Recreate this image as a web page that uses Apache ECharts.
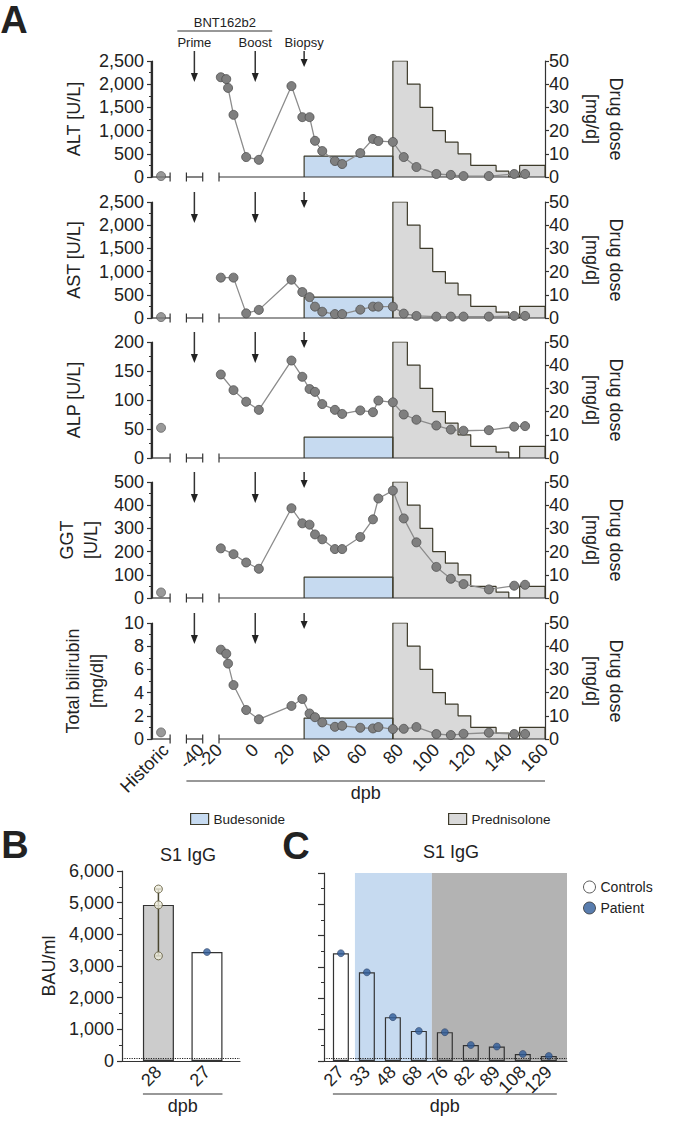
<!DOCTYPE html>
<html><head><meta charset="utf-8">
<script src="https://cdn.jsdelivr.net/npm/echarts@6/dist/echarts.min.js"></script>
<style>html,body{margin:0;padding:0;background:#fff}#c{width:692px;height:1122px}</style>
</head><body><div id="c"></div>
<script>
// ---------------- data ----------------
const daysFull  = [-19,-16,-15,-12,-5,2,20,26,30,33,37,44,48,58,65,68,76,82,89,100,108,115,129,143,149];
const daysShort = [-19,-12,-5,2,20,26,30,33,37,44,48,58,65,68,76,82,89,100,108,115,129,143,149];
const altValues  = [2150,2110,1920,1340,430,370,1960,1290,1290,780,560,345,280,515,820,775,755,430,215,65,45,20,20,65,65];
const astValues  = [870,870,100,175,825,560,450,245,135,85,85,180,245,245,245,95,45,30,30,30,30,45,45];
const alpValues  = [144,117,97,83,168,140,119,114,93,83,76,82,79,99,96,75,66,56,49,47,48,54,55];
const ggtValues  = [214,189,153,126,387,322,316,274,253,211,211,263,339,429,463,343,240,134,83,60,37,53,57];
const biliValues = [7.7,7.35,6.5,4.65,2.5,1.7,2.85,3.45,2.2,1.88,1.43,1.05,1.14,0.97,0.91,1.03,0.86,0.88,1.03,0.43,0.34,0.45,0.54,0.43,0.43];
const historicValues = [20,20,52,24,0.57];           // ALT, AST, ALP, GGT, bilirubin
const budesonideStart = 27, budesonideEnd = 76, budesonideDose = 9;
const prednisoloneStart = [76,84,91,98,105,112,119,133,140,146];
const prednisoloneDose  = [50,40,30,20,15,10,5,2.5,0,5];
const prednisoloneEnd = 160;
// broken x axis (day units; the left part is a compressed, broken scale)
const xMinDay = -57, xMaxDay = 160;
const historicX = -52;
const axisBreaks = [[-57,-47,0,1],[-38,-29,1,1],[-20,160,1,0]];
const xTickValues = [-49.5,-30,-20,0,20,40,60,80,100,120,140,160];
const xTickLabels = ['Historic','-40','-20','0','20','40','60','80','100','120','140','160'];
const eventNames = ['Prime','Boost','Biopsy'];
const eventDays  = [-33.6,0,27];
// panel B
const bCategories = ['28','27'];
const bControls = [5430,4930,3320];
const bBars = [4930,3440];
const bPatient = 3440;
// panel C
const cCategories = ['27','33','48','68','76','82','89','108','129'];
const cValues = [3440,2830,1400,960,920,510,460,225,160];
const detectionLimit = 100;

// axis coordinate = day + shift (keeps the broken axis free of a zero crossing)
const X_SHIFT = 100;
const vx = d => d + X_SHIFT;

// ---------------- style ----------------
const FONT = 'Liberation Sans, Arial, Helvetica, sans-serif';
const INK = '#222', AX = '#333', EDGE = '#3d3a2a';
const BUD = '#c6daf0', PRED = '#d9d9d9', GREYZONE = '#b3b3b3', BLUE = '#2f5d9a';
const fmt = v => String(v).replace(/\B(?=(\d{3})+(?!\d))/g, ',');
const aTops = [61,202,342,482,623];

const panels = [
  {name:'ALT [U/L]', days:daysFull, vals:altValues, max:2500, interval:500, gap:66},
  {name:'AST [U/L]', days:daysShort, vals:astValues, max:2500, interval:500, gap:66},
  {name:'ALP [U/L]', days:daysShort, vals:alpValues, max:200, interval:50, gap:66},
  {name:'GGT\n[U/L]', days:daysShort, vals:ggtValues, max:500, interval:100, gap:41},
  {name:'Total bilirubin\n[mg/dl]', days:daysFull, vals:biliValues, max:10, interval:2, gap:43}
];

const budData = [[budesonideStart,0],[budesonideStart,budesonideDose],[budesonideEnd,budesonideDose],[budesonideEnd,0]].map(p=>[vx(p[0]),p[1]]);
const predData = [[prednisoloneStart[0],0]].concat(prednisoloneStart.map((s,i)=>[s,prednisoloneDose[i]])).concat([[prednisoloneEnd,0]]).map(p=>[vx(p[0]),p[1]]);
const breakData = axisBreaks.map(b=>[vx(b[0]),vx(b[1]),b[2],b[3]]);

function renderBreak(params, api){
  const a = api.coord([api.value(0),0]), b = api.coord([api.value(1),0]);
  const st = {stroke:AX, lineWidth:1.2};
  const ch = [{type:'line', shape:{x1:a[0],y1:a[1],x2:b[0],y2:b[1]}, style:st}];
  if (api.value(2)) ch.push({type:'line', shape:{x1:a[0],y1:a[1]-4.5,x2:a[0],y2:a[1]+4.5}, style:st});
  if (api.value(3)) ch.push({type:'line', shape:{x1:b[0],y1:b[1]-4.5,x2:b[0],y2:b[1]+4.5}, style:st});
  return {type:'group', children:ch};
}

const grids=[], xAxis=[], yAxis=[], series=[];
const labelStyle = {fontSize:18, color:INK, fontFamily:FONT};
const axLine = () => ({show:true, onZero:false, lineStyle:{color:AX,width:1.2}});
panels.forEach((p,i)=>{
  grids.push({left:152, right:147, top:aTops[i], height:116});
  xAxis.push({type:'value', gridIndex:i, min:vx(xMinDay), max:vx(xMaxDay), axisLine:{show:false,onZero:false}, axisTick:{show:false}, splitLine:{show:false},
    axisLabel: i===4 ? Object.assign({show:true, customValues:xTickValues.map(vx), rotate:45, margin:8,
      formatter:v=>xTickLabels[xTickValues.findIndex(t=>Math.abs(vx(t)-v)<1e-6)]}, labelStyle) : {show:false}});
  yAxis.push({type:'value', gridIndex:i, position:'left', min:0, max:p.max, interval:p.interval,
    name:p.name, nameLocation:'middle', nameGap:p.gap, nameTextStyle:Object.assign({lineHeight:24}, labelStyle),
    axisLine:axLine(), axisTick:{show:true,length:5,lineStyle:{color:AX,width:1.2}},
    minorTick:{show:true, splitNumber:2, length:3, lineStyle:{color:AX,width:1}}, splitLine:{show:false},
    axisLabel:Object.assign({margin:8, formatter:fmt}, labelStyle)});
  yAxis.push({type:'value', gridIndex:i, position:'right', min:0, max:50, interval:10,
    name:'Drug dose\n[mg/d]', nameLocation:'middle', nameRotate:-90, nameGap:35, nameTextStyle:Object.assign({lineHeight:24}, labelStyle),
    axisLine:axLine(), axisTick:{show:true,length:4,lineStyle:{color:AX,width:1.2}},
    splitLine:{show:false}, axisLabel:Object.assign({margin:4}, labelStyle)});
  series.push({name:'Budesonide', type:'line', xAxisIndex:i, yAxisIndex:2*i+1, data:budData, symbol:'none',
    lineStyle:{color:EDGE,width:1.2}, areaStyle:{color:BUD,opacity:1}, itemStyle:{color:BUD}, z:2, silent:true});
  series.push({name:'Prednisolone', type:'line', step:'end', xAxisIndex:i, yAxisIndex:2*i+1, data:predData, symbol:'none',
    lineStyle:{color:EDGE,width:1.2}, areaStyle:{color:PRED,opacity:1}, itemStyle:{color:PRED}, z:2, silent:true});
  series.push({type:'custom', xAxisIndex:i, yAxisIndex:2*i, data:breakData, renderItem:renderBreak, z:3, silent:true});
  series.push({name:p.name.replace('\n',' '), type:'line', xAxisIndex:i, yAxisIndex:2*i, data:p.days.map((d,k)=>[vx(d),p.vals[k]]),
    symbol:'circle', symbolSize:9, showAllSymbol:true, lineStyle:{color:'#8c8c8c',width:1.3},
    itemStyle:{color:'#7f7f7f',borderColor:'#4f4f4f',borderWidth:0.8}, z:5});
  series.push({name:'Historic '+i, type:'scatter', xAxisIndex:i, yAxisIndex:2*i, data:[[vx(historicX), historicValues[i]]],
    symbolSize:9, itemStyle:{color:'#7f7f7f',borderColor:'#4f4f4f',borderWidth:0.8}, z:5});
});

// ---- panel B (grid 5) ----
grids.push({left:122, top:871, width:118, height:190});
xAxis.push({type:'value', gridIndex:5, min:-0.75, max:1.68, axisLine:axLine(), axisTick:{show:false}, splitLine:{show:false},
  axisLabel:Object.assign({customValues:[0,1], rotate:45, margin:8, formatter:v=>bCategories[v]}, labelStyle)});
yAxis.push({type:'value', gridIndex:5, min:0, max:6000, interval:1000, name:'BAU/ml', nameLocation:'middle', nameGap:61,
  nameTextStyle:Object.assign({lineHeight:24}, labelStyle),
  axisLine:axLine(), axisTick:{show:true,length:5,lineStyle:{color:AX,width:1.2}},
  minorTick:{show:true,splitNumber:2,length:3,lineStyle:{color:AX}}, splitLine:{show:false},
  axisLabel:Object.assign({margin:8, formatter:fmt}, labelStyle)});
series.push({name:'S1 IgG B', type:'bar', xAxisIndex:5, yAxisIndex:10, barWidth:31,
  data:[{value:[0,bBars[0]], itemStyle:{color:'#cccccc'}},{value:[1,bBars[1]], itemStyle:{color:'#ffffff'}}],
  itemStyle:{borderColor:AX,borderWidth:1.2}, z:2,
  markLine:{silent:true, symbol:'none', label:{show:false}, lineStyle:{type:'dotted',color:'#222',width:1.2}, data:[{yAxis:detectionLimit}]}});
series.push({type:'custom', xAxisIndex:5, yAxisIndex:10, data:[[0, Math.min(...bControls), Math.max(...bControls)]], z:3, silent:true,
  encode:{x:0,y:[1,2]},
  renderItem:(params,api)=>{
    const lo = api.coord([api.value(0),api.value(1)]), hi = api.coord([api.value(0),api.value(2)]);
    const st = {stroke:'#4a4630', lineWidth:1.5};
    return {type:'group', children:[
      {type:'line', shape:{x1:lo[0],y1:lo[1],x2:hi[0],y2:hi[1]}, style:st},
      {type:'line', shape:{x1:lo[0]-3,y1:lo[1],x2:lo[0]+3,y2:lo[1]}, style:st},
      {type:'line', shape:{x1:hi[0]-3,y1:hi[1],x2:hi[0]+3,y2:hi[1]}, style:st}]};
  }});
series.push({name:'Controls', type:'scatter', xAxisIndex:5, yAxisIndex:10, data:bControls.map(v=>[0,v]), symbolSize:8,
  itemStyle:{color:'#eeecdc', borderColor:'#5b5536', borderWidth:1}, z:4});
series.push({name:'Patient', type:'scatter', xAxisIndex:5, yAxisIndex:10, data:[[1,bPatient]], symbolSize:7,
  itemStyle:{color:BLUE, borderColor:'#223355', borderWidth:0.6}, z:4});

// ---- panel C (grid 6) ----
grids.push({left:324, top:873, width:243, height:188});
xAxis.push({type:'value', gridIndex:6, min:-0.65, max:8.7, axisLine:axLine(), axisTick:{show:false}, splitLine:{show:false},
  axisLabel:Object.assign({customValues:cCategories.map((c,i)=>i), rotate:45, margin:8, formatter:v=>cCategories[v]}, labelStyle)});
yAxis.push({type:'value', gridIndex:6, min:0, max:6000, interval:1000,
  axisLine:axLine(), axisTick:{show:true,length:6,lineStyle:{color:AX,width:1.2}},
  minorTick:{show:true,splitNumber:2,length:3,lineStyle:{color:AX}}, splitLine:{show:false}, axisLabel:{show:false}});
series.push({name:'S1 IgG C', type:'bar', xAxisIndex:6, yAxisIndex:11, barWidth:16,
  data:cValues.map((v,i)=>({value:[i,v], itemStyle:{color: i===0 ? '#ffffff' : 'rgba(0,0,0,0)'}})),
  itemStyle:{borderColor:AX,borderWidth:1.2}, z:2,
  markArea:{silent:true, data:[
    [{xAxis:0.54, itemStyle:{color:BUD}},{xAxis:3.5}],
    [{xAxis:3.5, itemStyle:{color:GREYZONE}},{xAxis:8.7}]]},
  markLine:{silent:true, symbol:'none', label:{show:false}, lineStyle:{type:'dotted',color:'#222',width:1.2}, data:[{yAxis:detectionLimit}]}});
series.push({name:'Patient', type:'scatter', xAxisIndex:6, yAxisIndex:11, data:cValues.map((v,i)=>[i,v]), symbolSize:7,
  itemStyle:{color:BLUE, borderColor:'#223355', borderWidth:0.6}, z:4});

const option = {
  animation:false,
  textStyle:{fontFamily:FONT},
  grid:grids, xAxis:xAxis, yAxis:yAxis, series:series,
  title:[
    {text:'S1 IgG', left:183, top:841, textAlign:'center', textStyle:{fontSize:18,fontWeight:'normal',color:INK,fontFamily:FONT}},
    {text:'S1 IgG', left:446, top:838, textAlign:'center', textStyle:{fontSize:18,fontWeight:'normal',color:INK,fontFamily:FONT}}
  ],
  legend:[
    {left:185, top:807, itemWidth:18, itemHeight:11, icon:'rect', selectedMode:false,
      data:[{name:'Budesonide', itemStyle:{color:BUD,borderColor:EDGE,borderWidth:1.2}}], textStyle:{fontSize:13.5,color:INK,fontFamily:FONT}},
    {left:443, top:807, itemWidth:18, itemHeight:11, icon:'rect', selectedMode:false,
      data:[{name:'Prednisolone', itemStyle:{color:PRED,borderColor:EDGE,borderWidth:1.2}}], textStyle:{fontSize:13.5,color:INK,fontFamily:FONT}},
    {left:578, top:875, orient:'vertical', itemWidth:12, itemHeight:12, itemGap:7, icon:'circle', selectedMode:false,
      data:[{name:'Controls', itemStyle:{color:'#ffffff',borderColor:'#333',borderWidth:1}},{name:'Patient', itemStyle:{color:BLUE,borderColor:'#333',borderWidth:1}}],
      textStyle:{fontSize:14,color:INK,fontFamily:FONT}}
  ]
};

const chart = echarts.init(document.getElementById('c'), null, {renderer:'svg', width:692, height:1122});
chart.setOption(option);

// ---- annotations computed from axis scales ----
const toPx = (g, x, y) => chart.convertToPixel({xAxisIndex:g, yAxisIndex: g<5 ? 2*g : (g===5?10:11)}, [x,y]);
const G = [];
const txt = (t, x, y, font) => G.push({type:'text', style:{text:t, x:x, y:y, fill:INK, font:font, align:'center', verticalAlign:'middle'}, z:50});
const line = (x1,y1,x2,y2,w,c) => G.push({type:'line', shape:{x1,y1,x2,y2}, style:{stroke:c||AX, lineWidth:w||1.2}, z:50});
panels.forEach((p,i)=>{
  const top = toPx(i, vx(0), p.max)[1];
  const bot = toPx(i, vx(0), 0)[1];
  const xl = Math.round(toPx(i, vx(xMinDay), 0)[0]) - 0.5;
  line(xl, top, xl, bot, 1.6, '#2a2a2a');   // left value-axis spine
  eventDays.forEach((d,e)=>{
    const x = toPx(i, vx(d), 0)[0];
    const long = e < 2;
    const shaftEnd = long ? top+12 : top-2;
    const tip = long ? top+21 : top+6;
    line(x, top-10, x, shaftEnd, 1.5);
    G.push({type:'polygon', shape:{points:[[x-3.5,shaftEnd],[x+3.5,shaftEnd],[x,tip]]}, style:{fill:'#222'}, z:50});
  });
});
{
  const f13 = '13px '+FONT, f18 = '18px '+FONT;
  const top = toPx(0, vx(0), panels[0].max)[1];
  const xp = toPx(0, vx(eventDays[0]), 0)[0], xb = toPx(0, vx(eventDays[1]), 0)[0], xy = toPx(0, vx(eventDays[2]), 0)[0];
  txt('BNT162b2', (xp+xb)/2, top-39, f13);
  line(xp-17, top-30, xb+17, top-30, 1.2);
  txt(eventNames[0], xp, top-19, f13);
  txt(eventNames[1], xb, top-19, f13);
  txt(eventNames[2], xy, top-19, f13);
  const bottom = toPx(4, vx(0), 0)[1];
  const xa = toPx(4, vx(axisBreaks[1][0]), 0)[0], xe = toPx(4, vx(xMaxDay), 0)[0];
  line(xa, bottom+42, xe, bottom+42, 1.2);
  txt('dpb', (xa+xe)/2, bottom+54, f18);
  const b0 = toPx(5, 0, 0), b1 = toPx(5, 1, 0);
  line(b0[0]-15.5, b0[1]+33, b1[0]+15.5, b0[1]+33, 1.2);
  txt('dpb', (b0[0]+b1[0])/2, b0[1]+45, f18);
  const c0 = toPx(6, 0, 0), c1 = toPx(6, cCategories.length-1, 0);
  line(c0[0]-8, c0[1]+33, c1[0]+8, c0[1]+33, 1.2);
  txt('dpb', (c0[0]+c1[0])/2, c0[1]+45, f18);
  const fb = 'bold 38px '+FONT;
  txt('A', 14, 20, fb);
  txt('B', 15, 845, fb);
  txt('C', 296, 846, fb);
}
chart.setOption({graphic:G});
</script></body></html>
